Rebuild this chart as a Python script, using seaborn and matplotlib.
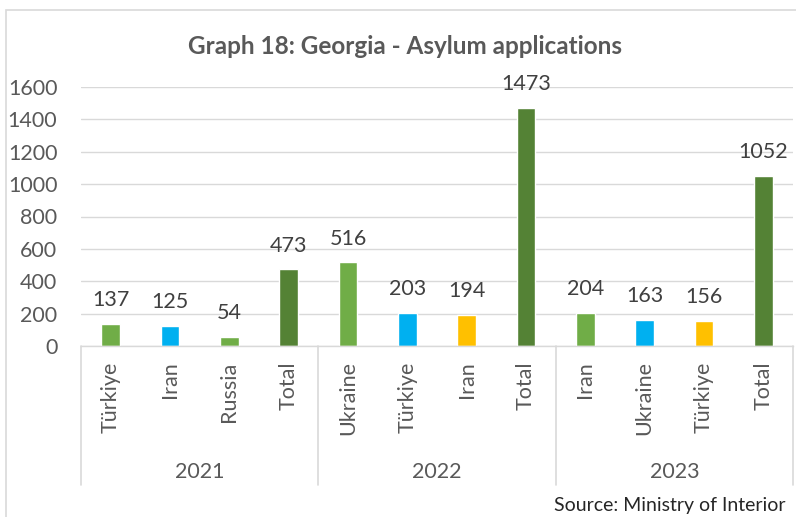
import pandas as pd
import matplotlib.pyplot as plt
import matplotlib.patches as patches
import seaborn as sns

# data
years = ["2021", "2022", "2023"]
countries = ["Türkiye", "Iran", "Russia", "Total",
             "Ukraine", "Türkiye", "Iran", "Total",
             "Iran", "Ukraine", "Türkiye", "Total"]
year_of_bar = ["2021"] * 4 + ["2022"] * 4 + ["2023"] * 4
applications = [137, 125, 54, 473,
                516, 203, 194, 1473,
                204, 163, 156, 1052]
bar_colors = ["#70AD47", "#00B0F0", "#70AD47", "#548235",
              "#70AD47", "#00B0F0", "#FFC000", "#548235",
              "#70AD47", "#00B0F0", "#FFC000", "#548235"]

df = pd.DataFrame({"year": year_of_bar, "country": countries, "value": applications})
df["slot"] = df["year"] + " " + df["country"]

sns.set_style("white")
plt.rcParams["font.family"] = ["Lato", "DejaVu Sans"]
grey = "#595959"
fs = 15.5

fig = plt.figure(figsize=(7.96, 5.17), dpi=100)
ax = fig.add_axes([81 / 796, 1 - 346 / 517, (793 - 81) / 796, (346 - 87) / 517])

sns.barplot(data=df, x="slot", y="value", hue="slot", palette=bar_colors,
            legend=False, width=0.32, ax=ax, saturation=1)

ax.set_xlim(-0.5, 11.5)
ax.set_ylim(0, 1600)
ax.set_yticks(range(0, 1601, 200))
ax.yaxis.grid(True, color="#D9D9D9", linewidth=1)
ax.set_axisbelow(True)
for s in ["top", "right", "left"]:
    ax.spines[s].set_visible(False)
ax.spines["bottom"].set_color("#D9D9D9")
ax.spines["bottom"].set_linewidth(1)
ax.set_xlabel("")
ax.set_ylabel("")

ax.set_xticks(range(len(countries)))
ax.set_xticklabels(countries, rotation=90, fontsize=fs, color=grey)
ax.tick_params(axis="x", length=0, pad=11)
ax.tick_params(axis="y", length=0, pad=17, labelsize=fs, labelcolor=grey)

# value labels
for i, v in enumerate(applications):
    ax.annotate(str(v), (i, v), xytext=(0, 10), textcoords="offset points",
                ha="center", va="bottom", fontsize=fs, color="#404040",
                annotation_clip=False)

# year group labels and separators
trans = ax.get_xaxis_transform()
for k, yr in enumerate(years):
    ax.text(4 * k + 1.5, -0.486, yr, transform=trans, ha="center", va="center",
            fontsize=fs, color=grey)
for xs in [-0.5, 3.5, 7.5, 11.5]:
    ax.plot([xs, xs], [0, -0.537], transform=trans, color="#D9D9D9",
            linewidth=1.2, clip_on=False)

fig.text(405 / 796, 1 - 47 / 517, "Graph 18: Georgia - Asylum applications",
         ha="center", va="center", fontsize=17.5, fontweight="bold", color=grey)
fig.text(786 / 796, 1 - 505 / 517, "Source: Ministry of Interior",
         ha="right", va="center", fontsize=14, color="#262626")

# outer chart border
fig.patches.append(patches.Rectangle((6 / 796, -0.1), 1.2, 1 - 10 / 517 + 0.1,
                                     transform=fig.transFigure, fill=False,
                                     edgecolor="#D9D9D9", linewidth=1.2))

plt.savefig("out.png", dpi=100)
